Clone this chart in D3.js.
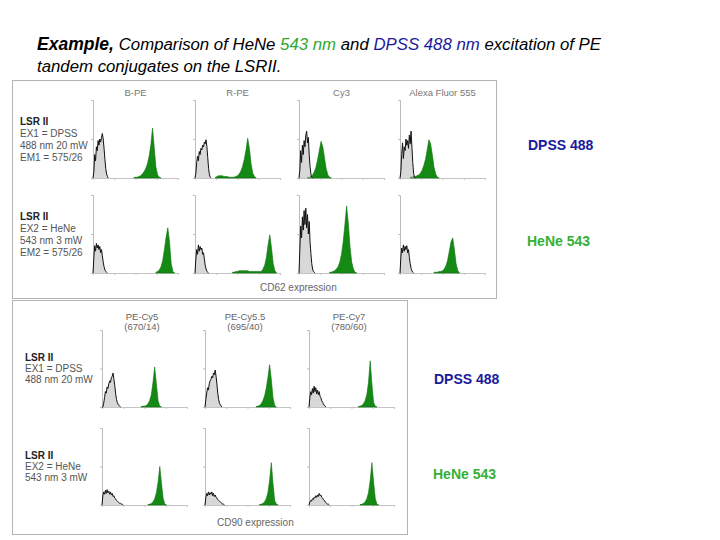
<!DOCTYPE html>
<html>
<head>
<meta charset="utf-8">
<script src="https://cdn.jsdelivr.net/npm/d3@7"></script>
<style>
body { margin:0; background:#fff; }
text { font-family: "Liberation Sans", Arial, sans-serif; }
</style>
</head>
<body>
<svg id="chart"></svg>
<script>
// column titles and row labels
var topCols = ["B-PE", "R-PE", "Cy3", "Alexa Fluor 555"];
var topRows = [["LSR II", "EX1 = DPSS", "488 nm 20 mW", "EM1 = 575/26"],
               ["LSR II", "EX2 = HeNe", "543 nm 3 mW", "EM2 = 575/26"]];
var botCols = [["PE-Cy5", "(670/14)"], ["PE-Cy5.5", "(695/40)"], ["PE-Cy7", "(780/60)"]];
var botRows = [["LSR II", "EX1 = DPSS", "488 nm 20 mW"],
               ["LSR II", "EX2 = HeNe", "543 nm 3 mW"]];
var laserTags = ["DPSS 488", "HeNe 543"];

// unstained (black) histograms, % of axis max, bin = 0.01 of channel range
var negTop = [
  [0, 8, 30, 22, 40, 35, 48, 42, 50, 46, 52, 57, 50, 38, 24, 12, 5, 2, 0],
  [0, 6, 20, 28, 22, 34, 30, 38, 36, 42, 40, 46, 44, 49, 40, 26, 12, 4, 1, 0],
  [0, 10, 35, 20, 42, 30, 48, 40, 55, 60, 45, 52, 30, 15, 5, 1, 0],
  [0, 8, 30, 45, 25, 40, 35, 50, 42, 48, 38, 55, 44, 60, 40, 20, 6, 1, 0],
  [0, 20, 35, 28, 38, 32, 36, 30, 34, 26, 30, 22, 14, 8, 4, 2, 1, 0],
  [0, 18, 30, 24, 36, 28, 34, 30, 32, 24, 26, 18, 10, 5, 2, 1, 0],
  [0, 30, 60, 45, 72, 55, 80, 62, 83, 58, 75, 50, 66, 40, 25, 12, 5, 2, 1, 0],
  [0, 20, 32, 26, 36, 28, 34, 30, 35, 26, 30, 20, 12, 6, 3, 1, 0]
];
// stained (green) histograms, bin = 0.02, starting channel below
var posTopStart = [0.48, 0.24, 0.10, 0.12, 0.74, 0.44, 0.36, 0.40];
var posTop = [
  [0.5, 1, 1, 2, 3, 5, 8, 12, 18, 28, 42, 64, 40, 14, 4, 1, 0],
  [1, 2, 3, 3, 3, 2, 2, 2, 1, 1, 1, 1, 2, 3, 5, 9, 15, 24, 36, 51, 38, 18, 6, 2, 0],
  [0.5, 1, 2, 4, 8, 14, 24, 36, 47, 40, 26, 12, 4, 1, 0],
  [1, 1, 2, 2, 3, 4, 6, 10, 16, 24, 36, 49, 44, 30, 14, 5, 1, 0],
  [1, 2, 4, 8, 16, 30, 46, 58, 40, 12, 2, 0],
  [1, 1, 2, 2, 3, 3, 3, 3, 3, 3, 2, 2, 2, 2, 2, 2, 2, 2, 5, 10, 20, 36, 49, 32, 12, 3, 0],
  [1, 1, 2, 3, 5, 8, 14, 24, 40, 62, 86, 64, 34, 14, 5, 1, 0],
  [1, 1, 1, 2, 2, 3, 5, 9, 16, 28, 40, 45, 30, 12, 3, 0]
];
var negBot = [
  [0, 0, 5, 12, 20, 18, 26, 24, 30, 34, 32, 38, 40, 44, 36, 28, 18, 10, 6, 3, 2, 1, 0],
  [0, 10, 18, 25, 22, 30, 34, 36, 40, 38, 44, 42, 48, 40, 30, 18, 10, 5, 3, 1, 0],
  [0, 12, 20, 16, 24, 18, 27, 20, 25, 17, 22, 16, 20, 14, 12, 8, 6, 4, 2, 1, 0],
  [0, 12, 17, 14, 19, 15, 20, 16, 18, 14, 17, 13, 15, 11, 12, 9, 8, 6, 5, 4, 3, 2, 2, 1, 1, 0],
  [0, 10, 15, 12, 17, 13, 16, 14, 17, 12, 15, 11, 13, 10, 9, 7, 6, 5, 4, 3, 2, 1, 1, 0],
  [0, 4, 6, 5, 8, 7, 10, 9, 12, 10, 13, 11, 15, 12, 13, 10, 9, 7, 6, 4, 3, 2, 1, 1, 0]
];
var posBotStart = [0.46, 0.60, 0.58, 0.54, 0.64, 0.60];
var posBot = [
  [0.5, 1, 1, 2, 4, 8, 16, 32, 52, 30, 8, 1, 0],
  [0.5, 1, 2, 4, 8, 14, 24, 38, 55, 36, 12, 2, 0],
  [0.5, 1, 2, 4, 8, 16, 32, 60, 30, 6, 1, 0],
  [0.5, 1, 2, 4, 8, 16, 30, 50, 28, 8, 1, 0],
  [0.5, 1, 2, 4, 8, 16, 32, 55, 28, 6, 1, 0],
  [0.5, 1, 2, 4, 8, 16, 32, 55, 30, 8, 1, 0]
];

var svg = d3.select("#chart").attr("width", 720).attr("height", 540);

// title
var t1 = svg.append("text").attr("x", 37).attr("y", 50)
    .style("font-size", "16.8px").style("font-style", "italic");
t1.append("tspan").text("Example, ").style("font-weight", "bold").style("font-size", "17.5px");
t1.append("tspan").text("Comparison of HeNe ");
t1.append("tspan").text("543 nm").attr("fill", "#2fa82f");
t1.append("tspan").text(" and ");
t1.append("tspan").text("DPSS 488 nm").attr("fill", "#1a1a9c");
t1.append("tspan").text(" excitation of PE");
svg.append("text").attr("x", 37).attr("y", 72)
    .style("font-size", "16.8px").style("font-style", "italic")
    .text("tandem conjugates on the LSRII.");

// panel frames
svg.append("rect").attr("x", 12.5).attr("y", 80.5).attr("width", 484).attr("height", 218)
    .attr("fill", "none").attr("stroke", "#b4b4b4");
svg.append("rect").attr("x", 12.5).attr("y", 300.5).attr("width", 395).attr("height", 234)
    .attr("fill", "#fff").attr("stroke", "#b4b4b4");

var drawHist = function(g, w, h, neg, pos, start)
{
    var x = d3.scaleLinear().domain([0, 1]).range([0, w]);
    var y = d3.scaleLinear().domain([0, 100]).range([h, 0]);

    g.append("g").attr("transform", "translate(0," + h + ")")
        .call(d3.axisBottom(x).tickValues([0, 0.25, 0.5, 0.75, 1]).tickSize(2).tickFormat(""))
        .call(function(a) { a.selectAll("path,line").attr("stroke", "#c4c4c4"); });
    g.append("g")
        .call(d3.axisLeft(y).tickValues([0, 50, 100]).tickSize(2).tickFormat(""))
        .call(function(a) { a.selectAll("path,line").attr("stroke", "#bcbcbc"); });

    var posPts = pos.map(function(v, i) { return [start + i * 0.02, v]; });
    g.append("path").datum(posPts)
        .attr("d", d3.area().x(function(d) { return x(d[0]); }).y0(h).y1(function(d) { return y(d[1]); }))
        .attr("fill", "#148a14").attr("stroke", "#0d6e0d").attr("stroke-width", 0.6);

    var negPts = neg.map(function(v, i) { return [i * 0.01, v]; });
    g.append("path").datum(negPts)
        .attr("d", d3.area().x(function(d) { return x(d[0]); }).y0(h).y1(function(d) { return y(d[1]); }))
        .attr("fill", "#a8a8a8").attr("fill-opacity", 0.45);
    g.append("path").datum(negPts)
        .attr("d", d3.line().x(function(d) { return x(d[0]); }).y(function(d) { return y(d[1]); }))
        .attr("fill", "none").attr("stroke", "#111").attr("stroke-width", 1);
};

var rowLabel = function(lines, x, y, step)
{
    lines.forEach(function(s, i) {
        svg.append("text").attr("x", x).attr("y", y + i * step)
            .style("font-size", "10px")
            .style("font-weight", i == 0 ? "bold" : "normal")
            .attr("fill", i == 0 ? "#222" : "#555")
            .text(s);
    });
};

// top panel
var topX = [93, 195, 299, 400], topY = [100, 195], topW = 85, topH = 78;
topCols.forEach(function(c, j) {
    svg.append("text").attr("x", topX[j] + topW / 2).attr("y", 96)
        .attr("text-anchor", "middle").style("font-size", "9.5px").attr("fill", "#777").text(c);
});
topRows.forEach(function(r, i) {
    rowLabel(r, 20, topY[i] + 25, 12);
    topCols.forEach(function(c, j) {
        var g = svg.append("g").attr("transform", "translate(" + topX[j] + "," + topY[i] + ")");
        drawHist(g, topW, topH, negTop[i * 4 + j], posTop[i * 4 + j], posTopStart[i * 4 + j]);
    });
});
svg.append("text").attr("x", 260).attr("y", 291).style("font-size", "10px").attr("fill", "#666")
    .text("CD62 expression");

// bottom panel
var botX = [102, 205, 309], botY = [330, 428], botW = 85, botH = 77;
botCols.forEach(function(c, j) {
    c.forEach(function(s, k) {
        svg.append("text").attr("x", botX[j] + 40).attr("y", 320 + k * 10)
            .attr("text-anchor", "middle").style("font-size", "9.5px").attr("fill", "#666").text(s);
    });
});
botRows.forEach(function(r, i) {
    rowLabel(r, 25, botY[i] + 31, 11);
    botCols.forEach(function(c, j) {
        var g = svg.append("g").attr("transform", "translate(" + botX[j] + "," + botY[i] + ")");
        drawHist(g, botW, botH, negBot[i * 3 + j], posBot[i * 3 + j], posBotStart[i * 3 + j]);
    });
});
svg.append("text").attr("x", 217).attr("y", 526).style("font-size", "10px").attr("fill", "#666")
    .text("CD90 expression");

// laser tags
var tagColor = ["#1a1a9c", "#35b035"];
[[528, 150], [527, 246]].forEach(function(p, i) {
    svg.append("text").attr("x", p[0]).attr("y", p[1]).style("font-size", "14px")
        .style("font-weight", "bold").attr("fill", tagColor[i]).text(laserTags[i]);
});
[[434, 384], [433, 479]].forEach(function(p, i) {
    svg.append("text").attr("x", p[0]).attr("y", p[1]).style("font-size", "14px")
        .style("font-weight", "bold").attr("fill", tagColor[i]).text(laserTags[i]);
});
</script>
</body>
</html>
